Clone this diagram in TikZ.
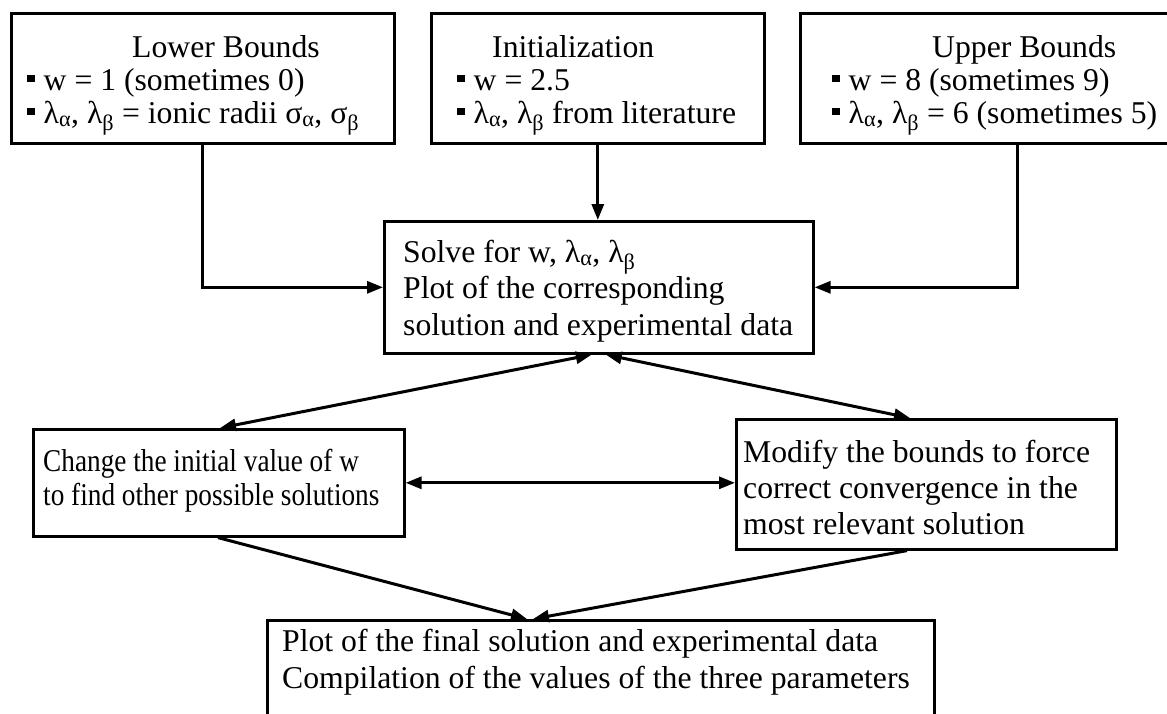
\documentclass[tikz,border=0pt]{standalone}
\usepackage{graphicx}
\usepackage{fontspec}
\setmainfont{Liberation Serif}
\usetikzlibrary{arrows.meta}
\newcommand{\bul}{\rule[8pt]{7.5pt}{7.5pt}\hspace{9pt}}
\newcommand{\lamA}{λ\textsubscript{α}}
\newcommand{\lamB}{λ\textsubscript{β}}
\newcommand{\sigA}{σ\textsubscript{α}}
\newcommand{\sigB}{σ\textsubscript{β}}
\newcommand{\narrow}[1]{\scalebox{0.86}[1]{#1}}
\begin{document}
\begin{tikzpicture}[x=1pt,y=-1pt,
  box/.style={draw, line width=2.6pt, inner sep=0pt, anchor=north west},
  big/.style={font=\fontsize{31.7}{36}\selectfont, inner sep=0pt, anchor=base west},
  tip/.tip={Triangle[length=16pt,width=12pt]},
  arr/.style={line width=3pt, -tip},
  darr/.style={line width=3pt, tip-tip}]
\useasboundingbox (0,0) rectangle (1167,713);
\clip (0,0) rectangle (1167,713);
\fill[white] (0,0) rectangle (1167,713);
% boxes
\node[box, minimum width=383pt, minimum height=130pt] (lb) at (10,12) {};
\node[box, minimum width=333pt, minimum height=130pt] (ib) at (430,12) {};
\node[box, minimum width=436pt, minimum height=130pt] (ub) at (799,12) {};
\node[box, minimum width=429pt, minimum height=132pt] (mb) at (383,220) {};
\node[box, minimum width=371pt, minimum height=107pt] (cb) at (32,428) {};
\node[box, minimum width=380pt, minimum height=130pt] (mob) at (735,418) {};
\node[box, minimum width=667pt, minimum height=150pt] (bb) at (266,619) {};
% texts
\node[big] (lbt) at (132,57) {Lower Bounds};
\node[big] (lb1) at (27,90) {\bul w = 1 (sometimes 0)};
\node[big] (lb2) at (27,123) {\bul \lamA, \lamB{} = ionic radii \sigA, \sigB};
\node[big] (ibt) at (492,57) {Initialization};
\node[big] (ib1) at (457,90) {\bul w = 2.5};
\node[big] (ib2) at (457,123) {\bul \lamA, \lamB{} from literature};
\node[big] (ubt) at (932,57) {Upper Bounds};
\node[big] (ub1) at (832,90) {\bul w = 8 (sometimes 9)};
\node[big] (ub2) at (832,123) {\bul \lamA, \lamB{} = 6 (sometimes 5)};
\node[big] (mb1) at (403,262) {Solve for w, \lamA, \lamB};
\node[big] (mb2) at (403,298) {Plot of the corresponding};
\node[big] (mb3) at (403,335) {solution and experimental data};
\node[big] (cb1) at (43,471) {\narrow{Change the initial value of w}};
\node[big] (cb2) at (43,505) {\narrow{to find other possible solutions}};
\node[big] (mo1) at (743,462) {Modify the bounds to force};
\node[big] (mo2) at (743,498) {correct convergence in the};
\node[big] (mo3) at (743,534) {most relevant solution};
\node[big] (bb1) at (282,651) {Plot of the final solution and experimental data};
\node[big] (bb2) at (282,688) {Compilation of the values of the three parameters};
% connector points
\path (ub.south west) ++(218,0) coordinate (ua);
\path (mb.south) ++(-7,0) coordinate (m1);
\path (mb.south) ++(7,0) coordinate (m2);
\path (cb.north west) ++(188,0) coordinate (c1);
\path (cb.south west) ++(186,0) coordinate (c2);
\path (mob.north west) ++(175,0) coordinate (o1);
\path (mob.south west) ++(172,0) coordinate (o2);
\path (bb.north west) ++(261,0) coordinate (b1);
\path (bb.north west) ++(267,0) coordinate (b2);
% connectors
\draw[arr] (lb.south) |- (mb.west);
\draw[arr] (ib.south) -- (ib.south |- mb.north);
\draw[arr] (ua) |- (mb.east);
\draw[darr] (m1) -- (c1);
\draw[darr] (m2) -- (o1);
\draw[darr] (cb.east) -- (cb.east -| mob.west);
\draw[arr] (c2) -- (b1);
\draw[arr] (o2) -- (b2);
\end{tikzpicture}
\end{document}
